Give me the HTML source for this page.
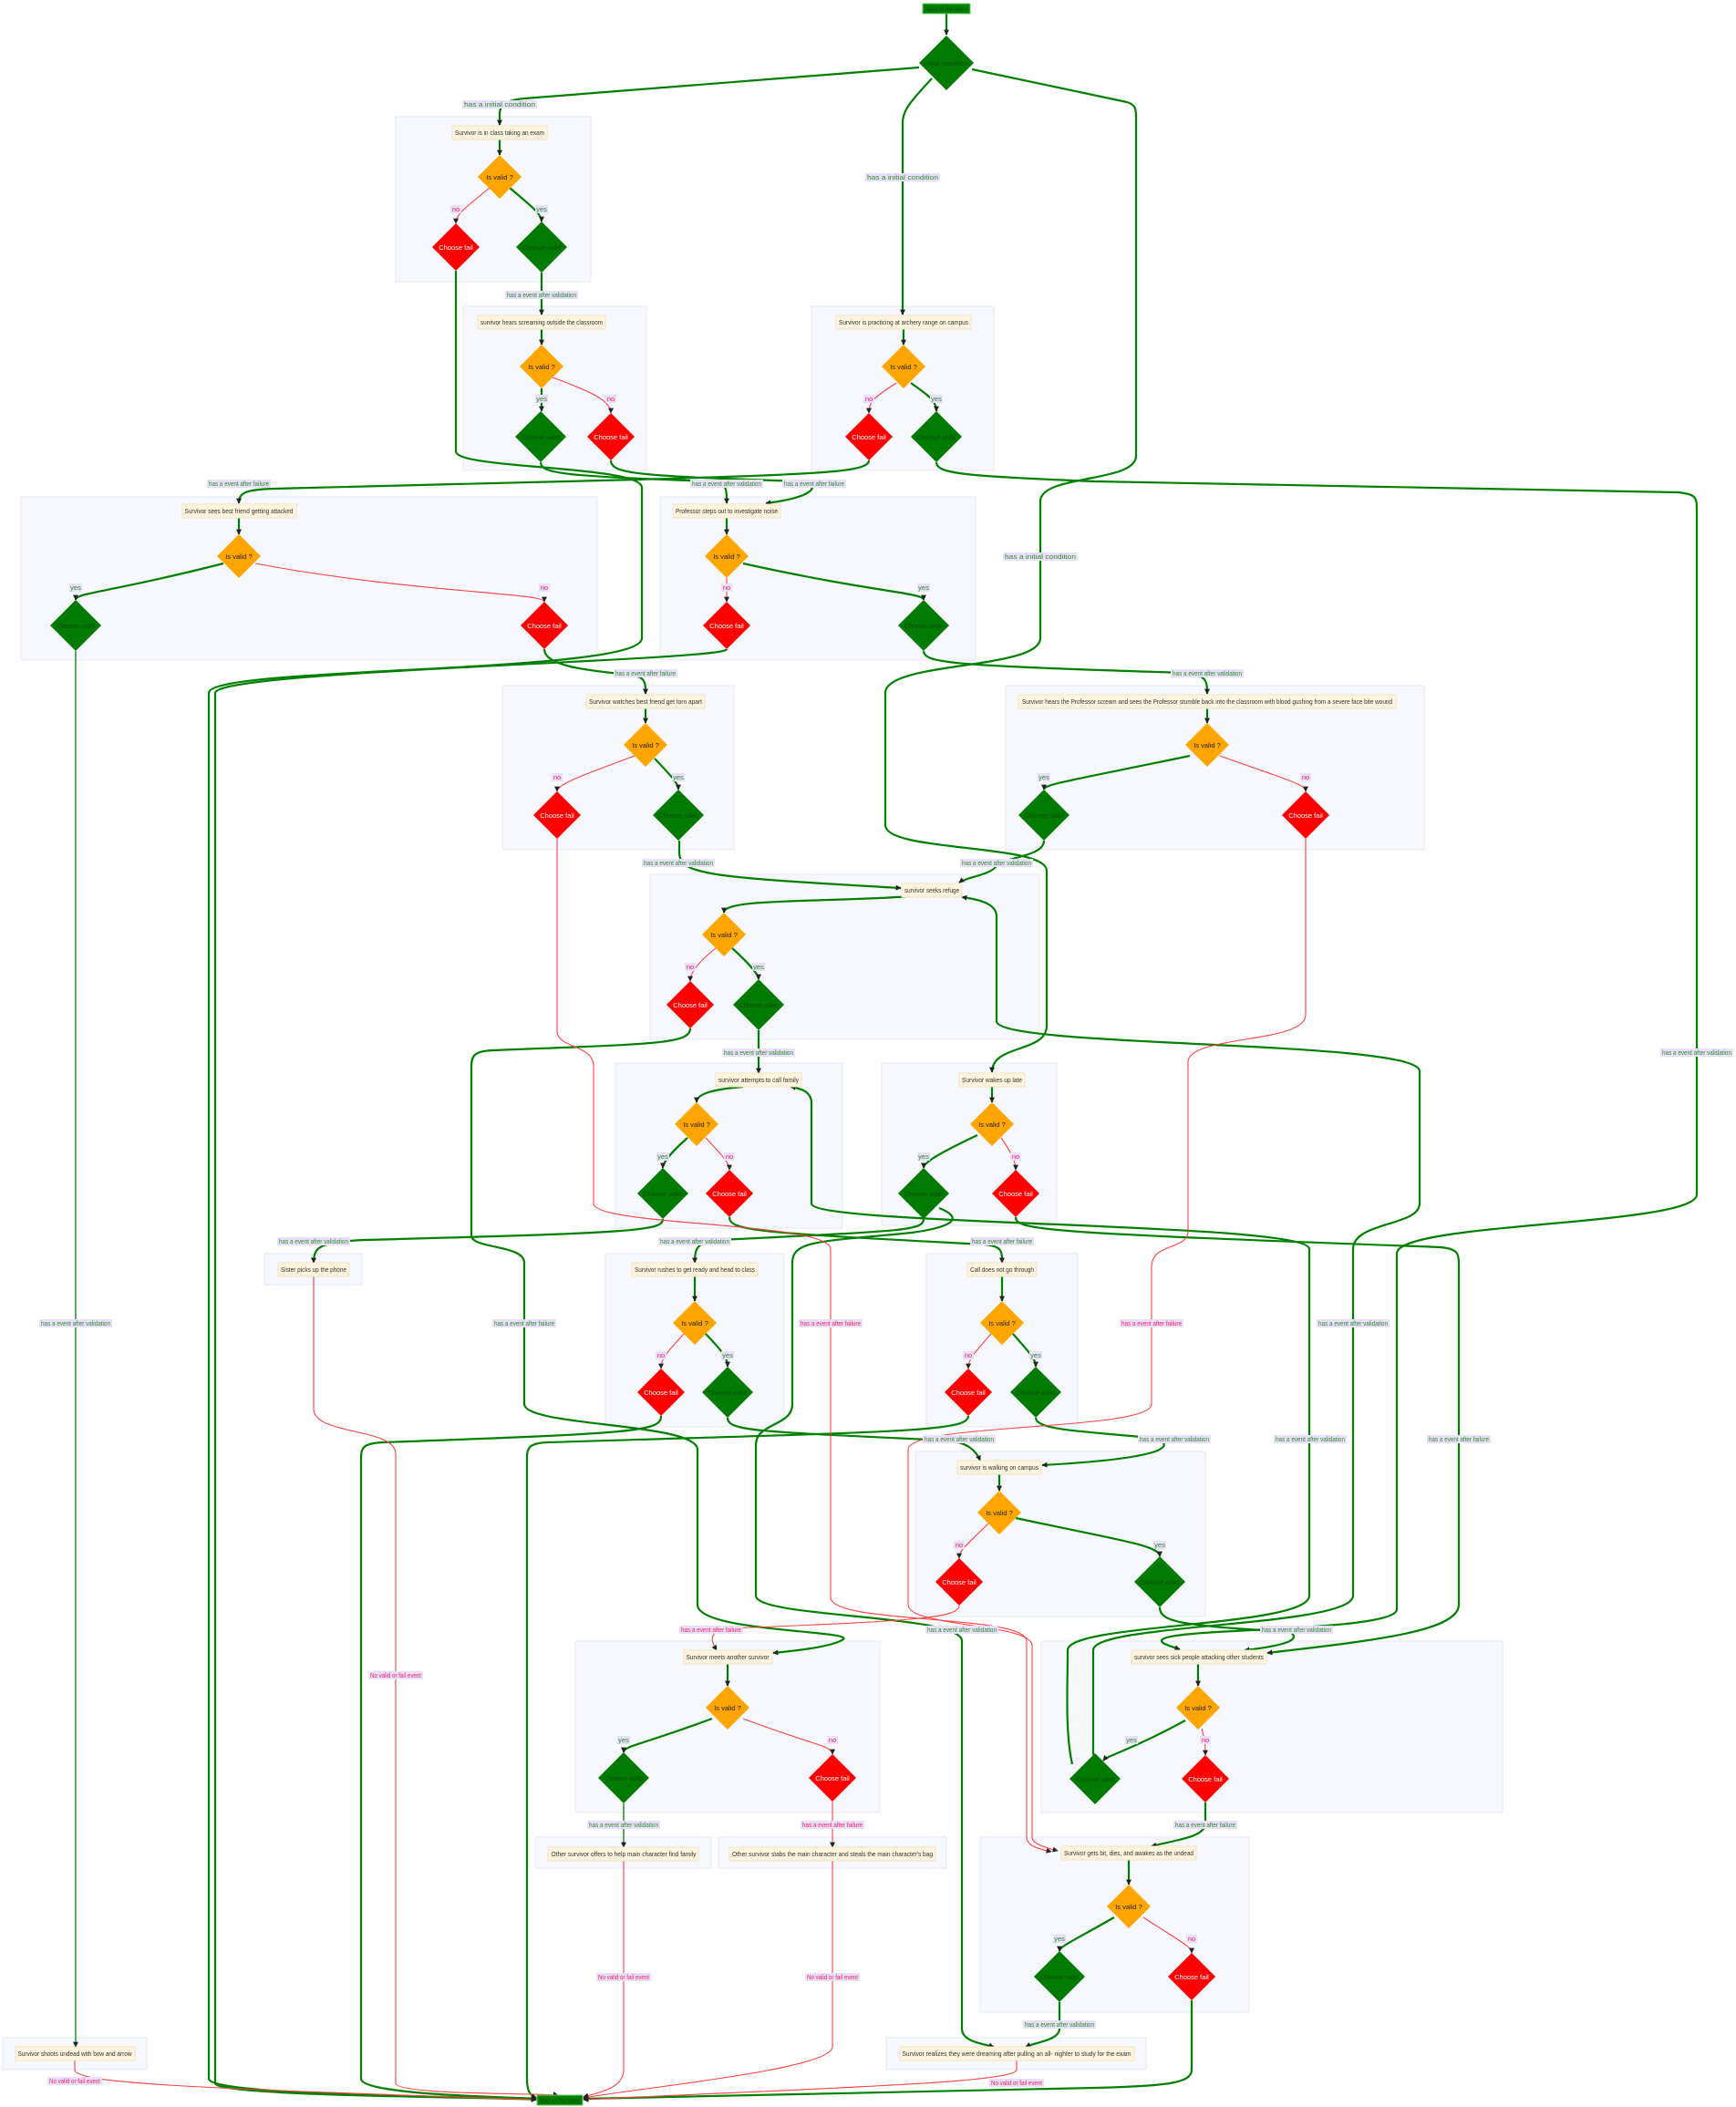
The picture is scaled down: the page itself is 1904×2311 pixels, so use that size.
<!DOCTYPE html>
<html><head><meta charset="utf-8"><style>
html,body{margin:0;padding:0;background:#fff;}
svg{display:block;font-family:"Liberation Sans",sans-serif;}
.cl{fill:#f7f8fd;stroke:#e4e8f4;stroke-width:1}
.bx{fill:#fff4de;stroke:#f3e4c4;stroke-width:1}
.bt{font-size:7.5px;fill:#333;text-anchor:middle}
.g{fill:none;stroke:#008000;stroke-width:2.2}
.gt{fill:none;stroke:#008000;stroke-width:1.3}
.r{fill:none;stroke:#ff4040;stroke-width:1.1}
.lb{fill:#eadff8}
.lg{font-size:7.5px;fill:#2e8b2e;text-anchor:middle}
.lr{font-size:7.5px;fill:#ff2060;text-anchor:middle}
.dv{fill:#ffa500}.dg{fill:#007a00}.dr{fill:#ff0000}
.tv{font-size:7.5px;fill:#222;text-anchor:middle}
.tg{font-size:7.5px;fill:#0b4d0b;text-anchor:middle}
.tr{font-size:7.5px;fill:#fff;text-anchor:middle}
</style></head><body>
<svg width="1904" height="2311" viewBox="0 0 1904 2311" xmlns="http://www.w3.org/2000/svg">
<defs><marker id="a" viewBox="0 0 10 10" refX="9" refY="5" markerUnits="userSpaceOnUse" markerWidth="6" markerHeight="6" orient="auto"><path d="M0,0L10,5L0,10z" fill="#222"/></marker></defs>

<!-- clusters -->
<rect class="cl" x="434" y="128" width="214" height="181"/>
<rect class="cl" x="508" y="336" width="201" height="180"/>
<rect class="cl" x="890" y="336" width="200" height="180"/>
<rect class="cl" x="23" y="545" width="632" height="179"/>
<rect class="cl" x="724" y="545" width="346" height="179"/>
<rect class="cl" x="551" y="752" width="254" height="180"/>
<rect class="cl" x="1103" y="752" width="459" height="180"/>
<rect class="cl" x="713" y="959" width="427" height="181"/>
<rect class="cl" x="675" y="1166" width="249" height="181"/>
<rect class="cl" x="967" y="1166" width="192" height="178"/>
<rect class="cl" x="290" y="1375" width="107" height="34"/>
<rect class="cl" x="664" y="1375" width="196" height="190"/>
<rect class="cl" x="1016" y="1375" width="166" height="190"/>
<rect class="cl" x="1004" y="1592" width="318" height="181"/>
<rect class="cl" x="631" y="1800" width="334" height="188"/>
<rect class="cl" x="1142" y="1800" width="506" height="188"/>
<rect class="cl" x="587" y="2015" width="193" height="34"/>
<rect class="cl" x="788" y="2015" width="250" height="34"/>
<rect class="cl" x="1075" y="2015" width="295" height="192"/>
<rect class="cl" x="3" y="2235" width="158" height="35"/>
<rect class="cl" x="972" y="2235" width="285" height="35"/>

<!-- long edges -->
<g class="g" marker-end="url(#a)">
<path d="M1038,15 L1038,38"/>
<path d="M1008,74 L575,108 C555,110 548,115 548,125 L548,137"/>
<path d="M1022,86 C1000,110 990,120 990,135 L990,345"/>
<path d="M1066,76 L1236,112 C1246,115 1246,120 1246,130 L1246,500 C1246,530 1141,520 1141,550 L1141,700 C1141,735 971,725 971,760 L971,905 C971,935 1148,925 1148,955 L1148,1125 C1148,1155 1088,1145 1088,1176"/>
<path d="M594,299 L594,345"/>
<path d="M500,297 L500,495 C500,515 704,510 704,535 L704,700 C704,740 229,730 229,760 L229,2280 C229,2300 560,2300 588,2302"/>
<path d="M797,712 C797,725 236,735 236,760 L236,2285 C236,2300 560,2300 588,2303"/>
<path d="M593,507 C593,520 620,522 780,528 C797,530 797,535 797,552"/>
<path d="M670,505 C670,520 700,522 880,528 C900,532 895,545 840,552"/>
<path d="M953,505 C953,518 900,520 700,526 L300,536 C270,537 262,540 262,552"/>
<path d="M1027,507 C1027,520 1060,522 1200,528 L1840,540 C1860,542 1861,545 1861,560 L1861,1310 C1861,1345 1532,1340 1532,1375 L1532,1765 C1532,1790 1290,1785 1275,1798 C1270,1802 1285,1806 1294,1809"/>
<path d="M597,712 C597,730 640,735 690,740 C708,742 708,748 708,761"/>
<path d="M1013,714 C1013,728 1050,730 1300,738 C1324,740 1324,748 1324,761"/>
<path d="M745,922 L745,935 C745,960 780,962 988,974"/>
<path d="M1145,922 C1145,940 1100,940 1093,950 C1085,960 1060,962 1052,968"/>
<path d="M832,1130 L832,1177"/>
<path d="M757,1128 C757,1145 720,1145 540,1152 C520,1153 517,1158 517,1170 L517,1355 C517,1370 575,1365 575,1385 L575,1540 C575,1565 765,1560 765,1590 L765,1760 C765,1790 935,1788 925,1798 C915,1805 880,1810 848,1813"/>
<path d="M727,1337 C727,1350 700,1352 400,1360 C350,1362 344,1368 344,1385"/>
<path d="M800,1335 C800,1350 830,1352 1080,1365 C1099,1367 1099,1372 1099,1385"/>
<path d="M1013,1337 C1013,1350 990,1350 790,1360 C765,1362 762,1368 762,1385"/>
<path d="M1030,1325 C1055,1335 1050,1345 1000,1352 C900,1362 869,1360 869,1385 L869,1540 C869,1565 829,1560 829,1585 L829,1750 C829,1775 1055,1770 1055,1800 L1055,2225 C1055,2240 1080,2242 1090,2245"/>
<path d="M1114,1335 C1114,1350 1150,1352 1580,1368 C1600,1370 1600,1375 1600,1390 L1600,1760 C1600,1790 1500,1800 1390,1813"/>
<path d="M725,1553 C725,1570 700,1572 420,1582 C398,1583 396,1588 396,1600 L396,2280 C396,2298 560,2300 588,2302"/>
<path d="M798,1555 C798,1570 830,1570 1040,1580 C1060,1582 1070,1590 1075,1602"/>
<path d="M1062,1553 C1062,1570 1000,1570 600,1582 C580,1583 578,1588 578,1600 L578,2280 C578,2295 582,2298 588,2301"/>
<path d="M1136,1555 C1136,1570 1200,1570 1270,1578 C1290,1588 1270,1600 1143,1607"/>
<path d="M1272,1763 C1272,1780 1300,1783 1415,1790 C1430,1800 1400,1806 1365,1810"/>
<path d="M1176,1935 C1168,1900 1171,1850 1171,1810 C1171,1780 1436,1785 1436,1750 L1436,1370 C1436,1340 890,1345 890,1320 L890,1210 C890,1198 880,1194 867,1192"/>
<path d="M1199,1925 L1199,1810 C1199,1780 1484,1785 1484,1750 L1484,1370 C1484,1340 1557,1345 1557,1320 L1557,1175 C1557,1140 1093,1150 1093,1120 L1093,1005 C1093,990 1070,986 1055,984"/>
<path d="M1162,2196 L1162,2225 C1162,2238 1135,2240 1125,2245"/>
<path d="M1322,1977 L1322,2000 C1322,2015 1290,2018 1263,2025"/>
<path d="M1307,2194 L1307,2270 C1307,2285 1280,2288 1200,2290 L640,2302"/>
</g>
<g class="gt" marker-end="url(#a)">
<path d="M83,714 L83,2245"/>
<path d="M684,1978 L684,2026"/>
</g>
<g class="r" marker-end="url(#a)">
<path d="M611,920 L611,1131 C611,1150 651,1145 651,1170 L651,1320 C651,1345 911,1340 911,1370 L911,1752 C911,1782 1126,1770 1126,1800 L1126,2015 C1126,2025 1140,2028 1153,2031"/>
<path d="M1432,920 L1432,1113 C1432,1145 1303,1135 1303,1165 L1303,1350 C1303,1372 1263,1362 1263,1390 L1263,1540 C1263,1570 996,1560 996,1590 L996,1760 C996,1785 1132,1780 1132,1805 L1132,2015 C1132,2022 1145,2026 1160,2030"/>
<path d="M344,1400 L344,1545 C344,1575 434,1565 434,1595 L434,2285 C434,2298 600,2296 612,2298"/>
<path d="M1052,1761 C1052,1775 1000,1778 800,1786 C775,1790 780,1800 786,1810"/>
<path d="M913,1976 L913,2026"/>
<path d="M684,2041 L684,2270 C684,2290 660,2294 640,2300"/>
<path d="M913,2041 L913,2245 C913,2270 700,2290 640,2301"/>
<path d="M1115,2260 L1115,2270 C1115,2285 900,2290 640,2303"/>
<path d="M82,2260 L82,2270 C82,2285 200,2290 588,2303"/>
</g>

<!-- in-cluster edges -->
<g class="g" marker-end="url(#a)">
<path d="M548,153 L548,170"/><path d="M559,206 C585,228 594,235 594,243"/>
<path d="M594,361 L594,378"/><path d="M594,426 L594,451"/>
<path d="M991,361 L991,378"/><path d="M999,420 C1020,435 1027,440 1027,451"/>
<path d="M262,568 L262,586"/><path d="M245,618 C120,650 83,650 83,658"/>
<path d="M797,568 L797,586"/><path d="M815,618 C960,650 1013,650 1013,658"/>
<path d="M708,777 L708,793"/><path d="M718,832 C740,855 744,860 744,866"/>
<path d="M1324,777 L1324,793"/><path d="M1305,829 C1180,855 1145,860 1145,866"/>
<path d="M1000,983 C900,990 794,985 794,1001"/><path d="M803,1040 C825,1060 832,1070 832,1074"/>
<path d="M815,1192 C780,1195 764,1200 764,1209"/><path d="M754,1248 C735,1265 727,1275 727,1281"/>
<path d="M1088,1192 L1088,1209"/><path d="M1072,1245 C1030,1265 1013,1275 1013,1281"/>
<path d="M762,1400 L762,1427"/><path d="M774,1463 C795,1485 798,1490 798,1499"/>
<path d="M1099,1400 L1099,1427"/><path d="M1111,1463 C1130,1485 1136,1490 1136,1499"/>
<path d="M1096,1617 L1096,1635"/><path d="M1114,1665 C1230,1690 1272,1695 1272,1707"/>
<path d="M798,1825 L798,1849"/><path d="M781,1885 C700,1915 684,1915 684,1922"/>
<path d="M1314,1825 L1314,1849"/><path d="M1300,1887 C1240,1920 1215,1925 1210,1931"/>
<path d="M1238,2040 L1238,2067"/><path d="M1222,2103 C1175,2130 1162,2135 1162,2140"/>
</g>
<g class="r" marker-end="url(#a)">
<path d="M537,206 C510,228 500,235 500,245"/>
<path d="M606,414 C650,430 670,440 670,453"/>
<path d="M983,420 C960,435 953,440 953,453"/>
<path d="M280,618 C450,650 597,650 597,660"/>
<path d="M797,634 L797,660"/>
<path d="M696,829 C640,850 611,860 611,868"/>
<path d="M1338,829 C1410,855 1432,860 1432,868"/>
<path d="M785,1040 C760,1060 757,1070 757,1076"/>
<path d="M774,1248 C790,1265 800,1275 800,1283"/>
<path d="M1098,1248 C1110,1265 1114,1275 1114,1283"/>
<path d="M750,1463 C730,1485 725,1490 725,1501"/>
<path d="M1087,1463 C1068,1485 1062,1490 1062,1501"/>
<path d="M1084,1671 C1060,1695 1052,1700 1052,1709"/>
<path d="M815,1885 C895,1915 913,1915 913,1924"/>
<path d="M1318,1896 C1322,1910 1322,1915 1322,1925"/>
<path d="M1254,2103 C1295,2130 1307,2135 1307,2142"/>
</g>

<!-- start / end -->
<rect x="1012" y="4" width="52" height="11" fill="#008000" stroke="#6c6"/>
<text x="1038" y="12.5" class="tg" textLength="46" lengthAdjust="spacingAndGlyphs">Start of the story</text>
<rect x="589" y="2298" width="50" height="11" fill="#008000" stroke="#6c6"/>
<text x="614" y="2306.5" class="tg" textLength="44" lengthAdjust="spacingAndGlyphs">End of the story</text>
<polygon class="dg" points="1038,39 1068,69 1038,99 1008,69"/>
<text x="1038" y="72" class="tg">Initial condition</text>

<!-- boxes -->
<g>
<rect class="bx" x="496" y="138" width="104" height="15"/><text class="bt" x="548" y="148" textLength="98" lengthAdjust="spacingAndGlyphs">Survivor is in class taking an exam</text>
<rect class="bx" x="524" y="346" width="140" height="15"/><text class="bt" x="594" y="356" textLength="134" lengthAdjust="spacingAndGlyphs">survivor hears screaming outside the classroom</text>
<rect class="bx" x="917" y="346" width="148" height="15"/><text class="bt" x="991" y="356" textLength="142" lengthAdjust="spacingAndGlyphs">Survivor is practicing at archery range on campus</text>
<rect class="bx" x="200" y="553" width="125" height="15"/><text class="bt" x="262" y="563" textLength="119" lengthAdjust="spacingAndGlyphs">Survivor sees best friend getting attacked</text>
<rect class="bx" x="738" y="553" width="118" height="15"/><text class="bt" x="797" y="563" textLength="112" lengthAdjust="spacingAndGlyphs">Professor steps out to investigate noise</text>
<rect class="bx" x="643" y="762" width="130" height="15"/><text class="bt" x="708" y="772" textLength="124" lengthAdjust="spacingAndGlyphs">Survivor watches best friend get torn apart</text>
<rect class="bx" x="1117" y="762" width="414" height="15"/><text class="bt" x="1324" y="772" textLength="406" lengthAdjust="spacingAndGlyphs">Survivor hears the Professor scream and sees the Professor stumble back into the classroom with blood gushing from a severe face bite wound</text>
<rect class="bx" x="989" y="969" width="66" height="15"/><text class="bt" x="1022" y="979" textLength="60" lengthAdjust="spacingAndGlyphs">survivor seeks refuge</text>
<rect class="bx" x="785" y="1177" width="94" height="15"/><text class="bt" x="832" y="1187" textLength="88" lengthAdjust="spacingAndGlyphs">survivor attempts to call family</text>
<rect class="bx" x="1052" y="1177" width="72" height="15"/><text class="bt" x="1088" y="1187" textLength="66" lengthAdjust="spacingAndGlyphs">Survivor wakes up late</text>
<rect class="bx" x="305" y="1385" width="78" height="15"/><text class="bt" x="344" y="1395" textLength="72" lengthAdjust="spacingAndGlyphs">Sister picks up the phone</text>
<rect class="bx" x="693" y="1385" width="138" height="15"/><text class="bt" x="762" y="1395" textLength="132" lengthAdjust="spacingAndGlyphs">Survivor rushes to get ready and head to class</text>
<rect class="bx" x="1061" y="1385" width="76" height="15"/><text class="bt" x="1099" y="1395" textLength="70" lengthAdjust="spacingAndGlyphs">Call does not go through</text>
<rect class="bx" x="1050" y="1602" width="92" height="15"/><text class="bt" x="1096" y="1612" textLength="86" lengthAdjust="spacingAndGlyphs">survivor is walking on campus</text>
<rect class="bx" x="750" y="1810" width="97" height="15"/><text class="bt" x="798" y="1820" textLength="91" lengthAdjust="spacingAndGlyphs">Survivor meets another survivor</text>
<rect class="bx" x="1241" y="1810" width="148" height="15"/><text class="bt" x="1315" y="1820" textLength="142" lengthAdjust="spacingAndGlyphs">survivor sees sick people attacking other students</text>
<rect class="bx" x="601" y="2026" width="165" height="15"/><text class="bt" x="684" y="2036" textLength="159" lengthAdjust="spacingAndGlyphs">Other survivor offers to help main character find family</text>
<rect class="bx" x="800" y="2026" width="226" height="15"/><text class="bt" x="913" y="2036" textLength="220" lengthAdjust="spacingAndGlyphs">Other survivor stabs the main character and steals the main character's bag</text>
<rect class="bx" x="1164" y="2025" width="148" height="15"/><text class="bt" x="1238" y="2035" textLength="142" lengthAdjust="spacingAndGlyphs">Survivor gets bit, dies, and awakes as the undead</text>
<rect class="bx" x="17" y="2245" width="131" height="15"/><text class="bt" x="82" y="2255" textLength="125" lengthAdjust="spacingAndGlyphs">Survivor shoots undead with bow and arrow</text>
<rect class="bx" x="987" y="2245" width="257" height="15"/><text class="bt" x="1115" y="2255" textLength="251" lengthAdjust="spacingAndGlyphs">Survivor realizes they were dreaming after pulling an all- nighter to study for the exam</text>
</g>

<!-- valid diamonds -->
<g>
<polygon class="dv" points="548,170 572,194 548,218 524,194"/><text class="tv" x="548" y="197">Is valid ?</text>
<polygon class="dv" points="594,378 618,402 594,426 570,402"/><text class="tv" x="594" y="405">Is valid ?</text>
<polygon class="dv" points="991,378 1015,402 991,426 967,402"/><text class="tv" x="991" y="405">Is valid ?</text>
<polygon class="dv" points="262,586 286,610 262,634 238,610"/><text class="tv" x="262" y="613">Is valid ?</text>
<polygon class="dv" points="797,586 821,610 797,634 773,610"/><text class="tv" x="797" y="613">Is valid ?</text>
<polygon class="dv" points="708,793 732,817 708,841 684,817"/><text class="tv" x="708" y="820">Is valid ?</text>
<polygon class="dv" points="1324,793 1348,817 1324,841 1300,817"/><text class="tv" x="1324" y="820">Is valid ?</text>
<polygon class="dv" points="794,1001 818,1025 794,1049 770,1025"/><text class="tv" x="794" y="1028">Is valid ?</text>
<polygon class="dv" points="764,1209 788,1233 764,1257 740,1233"/><text class="tv" x="764" y="1236">Is valid ?</text>
<polygon class="dv" points="1088,1209 1112,1233 1088,1257 1064,1233"/><text class="tv" x="1088" y="1236">Is valid ?</text>
<polygon class="dv" points="762,1427 786,1451 762,1475 738,1451"/><text class="tv" x="762" y="1454">Is valid ?</text>
<polygon class="dv" points="1099,1427 1123,1451 1099,1475 1075,1451"/><text class="tv" x="1099" y="1454">Is valid ?</text>
<polygon class="dv" points="1096,1635 1120,1659 1096,1683 1072,1659"/><text class="tv" x="1096" y="1662">Is valid ?</text>
<polygon class="dv" points="798,1849 822,1873 798,1897 774,1873"/><text class="tv" x="798" y="1876">Is valid ?</text>
<polygon class="dv" points="1314,1849 1338,1873 1314,1897 1290,1873"/><text class="tv" x="1314" y="1876">Is valid ?</text>
<polygon class="dv" points="1238,2067 1262,2091 1238,2115 1214,2091"/><text class="tv" x="1238" y="2094">Is valid ?</text>
</g>
<!-- choose valid -->
<g>
<polygon class="dg" points="594,243 622,271 594,299 566,271"/><text class="tg" x="594" y="274">Choose valid</text>
<polygon class="dg" points="593,451 621,479 593,507 565,479"/><text class="tg" x="593" y="482">Choose valid</text>
<polygon class="dg" points="1027,451 1055,479 1027,507 999,479"/><text class="tg" x="1027" y="482">Choose valid</text>
<polygon class="dg" points="83,658 111,686 83,714 55,686"/><text class="tg" x="83" y="689">Choose valid</text>
<polygon class="dg" points="1013,658 1041,686 1013,714 985,686"/><text class="tg" x="1013" y="689">Choose valid</text>
<polygon class="dg" points="744,866 772,894 744,922 716,894"/><text class="tg" x="744" y="897">Choose valid</text>
<polygon class="dg" points="1145,866 1173,894 1145,922 1117,894"/><text class="tg" x="1145" y="897">Choose valid</text>
<polygon class="dg" points="832,1074 860,1102 832,1130 804,1102"/><text class="tg" x="832" y="1105">Choose valid</text>
<polygon class="dg" points="727,1281 755,1309 727,1337 699,1309"/><text class="tg" x="727" y="1312">Choose valid</text>
<polygon class="dg" points="1013,1281 1041,1309 1013,1337 985,1309"/><text class="tg" x="1013" y="1312">Choose valid</text>
<polygon class="dg" points="798,1499 826,1527 798,1555 770,1527"/><text class="tg" x="798" y="1530">Choose valid</text>
<polygon class="dg" points="1136,1499 1164,1527 1136,1555 1108,1527"/><text class="tg" x="1136" y="1530">Choose valid</text>
<polygon class="dg" points="1272,1707 1300,1735 1272,1763 1244,1735"/><text class="tg" x="1272" y="1738">Choose valid</text>
<polygon class="dg" points="684,1922 712,1950 684,1978 656,1950"/><text class="tg" x="684" y="1953">Choose valid</text>
<polygon class="dg" points="1201,1923 1229,1951 1201,1979 1173,1951"/><text class="tg" x="1201" y="1954">Choose valid</text>
<polygon class="dg" points="1162,2140 1190,2168 1162,2196 1134,2168"/><text class="tg" x="1162" y="2171">Choose valid</text>
</g>
<!-- choose fail -->
<g>
<polygon class="dr" points="500,245 526,271 500,297 474,271"/><text class="tr" x="500" y="274">Choose fail</text>
<polygon class="dr" points="670,453 696,479 670,505 644,479"/><text class="tr" x="670" y="482">Choose fail</text>
<polygon class="dr" points="953,453 979,479 953,505 927,479"/><text class="tr" x="953" y="482">Choose fail</text>
<polygon class="dr" points="597,660 623,686 597,712 571,686"/><text class="tr" x="597" y="689">Choose fail</text>
<polygon class="dr" points="797,660 823,686 797,712 771,686"/><text class="tr" x="797" y="689">Choose fail</text>
<polygon class="dr" points="611,868 637,894 611,920 585,894"/><text class="tr" x="611" y="897">Choose fail</text>
<polygon class="dr" points="1432,868 1458,894 1432,920 1406,894"/><text class="tr" x="1432" y="897">Choose fail</text>
<polygon class="dr" points="757,1076 783,1102 757,1128 731,1102"/><text class="tr" x="757" y="1105">Choose fail</text>
<polygon class="dr" points="800,1283 826,1309 800,1335 774,1309"/><text class="tr" x="800" y="1312">Choose fail</text>
<polygon class="dr" points="1114,1283 1140,1309 1114,1335 1088,1309"/><text class="tr" x="1114" y="1312">Choose fail</text>
<polygon class="dr" points="725,1501 751,1527 725,1553 699,1527"/><text class="tr" x="725" y="1530">Choose fail</text>
<polygon class="dr" points="1062,1501 1088,1527 1062,1553 1036,1527"/><text class="tr" x="1062" y="1530">Choose fail</text>
<polygon class="dr" points="1052,1709 1078,1735 1052,1761 1026,1735"/><text class="tr" x="1052" y="1738">Choose fail</text>
<polygon class="dr" points="913,1924 939,1950 913,1976 887,1950"/><text class="tr" x="913" y="1953">Choose fail</text>
<polygon class="dr" points="1322,1925 1348,1951 1322,1977 1296,1951"/><text class="tr" x="1322" y="1954">Choose fail</text>
<polygon class="dr" points="1307,2142 1333,2168 1307,2194 1281,2168"/><text class="tr" x="1307" y="2171">Choose fail</text>
</g>

<!-- yes/no labels -->
<g>
<rect class="lb" x="494" y="225" width="12" height="9"/><text class="lr" x="500" y="232">no</text>
<rect class="lb" x="587" y="225" width="14" height="9"/><text class="lg" x="594" y="232">yes</text>
<rect class="lb" x="587" y="433" width="14" height="9"/><text class="lg" x="594" y="440">yes</text>
<rect class="lb" x="664" y="433" width="12" height="9"/><text class="lr" x="670" y="440">no</text>
<rect class="lb" x="947" y="433" width="12" height="9"/><text class="lr" x="953" y="440">no</text>
<rect class="lb" x="1020" y="433" width="14" height="9"/><text class="lg" x="1027" y="440">yes</text>
<rect class="lb" x="76" y="640" width="14" height="9"/><text class="lg" x="83" y="647">yes</text>
<rect class="lb" x="591" y="640" width="12" height="9"/><text class="lr" x="597" y="647">no</text>
<rect class="lb" x="791" y="640" width="12" height="9"/><text class="lr" x="797" y="647">no</text>
<rect class="lb" x="1006" y="640" width="14" height="9"/><text class="lg" x="1013" y="647">yes</text>
<rect class="lb" x="605" y="848" width="12" height="9"/><text class="lr" x="611" y="855">no</text>
<rect class="lb" x="737" y="848" width="14" height="9"/><text class="lg" x="744" y="855">yes</text>
<rect class="lb" x="1138" y="848" width="14" height="9"/><text class="lg" x="1145" y="855">yes</text>
<rect class="lb" x="1426" y="848" width="12" height="9"/><text class="lr" x="1432" y="855">no</text>
<rect class="lb" x="751" y="1056" width="12" height="9"/><text class="lr" x="757" y="1063">no</text>
<rect class="lb" x="825" y="1056" width="14" height="9"/><text class="lg" x="832" y="1063">yes</text>
<rect class="lb" x="720" y="1264" width="14" height="9"/><text class="lg" x="727" y="1271">yes</text>
<rect class="lb" x="794" y="1264" width="12" height="9"/><text class="lr" x="800" y="1271">no</text>
<rect class="lb" x="1006" y="1264" width="14" height="9"/><text class="lg" x="1013" y="1271">yes</text>
<rect class="lb" x="1108" y="1264" width="12" height="9"/><text class="lr" x="1114" y="1271">no</text>
<rect class="lb" x="719" y="1482" width="12" height="9"/><text class="lr" x="725" y="1489">no</text>
<rect class="lb" x="791" y="1482" width="14" height="9"/><text class="lg" x="798" y="1489">yes</text>
<rect class="lb" x="1056" y="1482" width="12" height="9"/><text class="lr" x="1062" y="1489">no</text>
<rect class="lb" x="1129" y="1482" width="14" height="9"/><text class="lg" x="1136" y="1489">yes</text>
<rect class="lb" x="1046" y="1690" width="12" height="9"/><text class="lr" x="1052" y="1697">no</text>
<rect class="lb" x="1265" y="1690" width="14" height="9"/><text class="lg" x="1272" y="1697">yes</text>
<rect class="lb" x="677" y="1904" width="14" height="9"/><text class="lg" x="684" y="1911">yes</text>
<rect class="lb" x="907" y="1904" width="12" height="9"/><text class="lr" x="913" y="1911">no</text>
<rect class="lb" x="1234" y="1904" width="14" height="9"/><text class="lg" x="1241" y="1911">yes</text>
<rect class="lb" x="1316" y="1904" width="12" height="9"/><text class="lr" x="1322" y="1911">no</text>
<rect class="lb" x="1155" y="2122" width="14" height="9"/><text class="lg" x="1162" y="2129">yes</text>
<rect class="lb" x="1301" y="2122" width="12" height="9"/><text class="lr" x="1307" y="2129">no</text>
</g>

<!-- edge labels -->
<g>
<rect class="lb" x="507" y="110" width="82" height="9"/><text class="lg" x="548" y="117" textLength="78" lengthAdjust="spacingAndGlyphs">has a initial condition</text>
<rect class="lb" x="949" y="190" width="82" height="9"/><text class="lg" x="990" y="197" textLength="78" lengthAdjust="spacingAndGlyphs">has a initial condition</text>
<rect class="lb" x="1100" y="606" width="82" height="9"/><text class="lg" x="1141" y="613" textLength="78" lengthAdjust="spacingAndGlyphs">has a initial condition</text>
<rect class="lb" x="554" y="319" width="80" height="9"/><text class="lg" x="594" y="326" textLength="76" lengthAdjust="spacingAndGlyphs">has a event after validation</text>
<rect class="lb" x="227" y="526" width="70" height="9"/><text class="lg" x="262" y="533" textLength="66" lengthAdjust="spacingAndGlyphs">has a event after failure</text>
<rect class="lb" x="757" y="526" width="80" height="9"/><text class="lg" x="797" y="533" textLength="76" lengthAdjust="spacingAndGlyphs">has a event after validation</text>
<rect class="lb" x="858" y="526" width="70" height="9"/><text class="lg" x="893" y="533" textLength="66" lengthAdjust="spacingAndGlyphs">has a event after failure</text>
<rect class="lb" x="673" y="734" width="70" height="9"/><text class="lg" x="708" y="741" textLength="66" lengthAdjust="spacingAndGlyphs">has a event after failure</text>
<rect class="lb" x="1284" y="734" width="80" height="9"/><text class="lg" x="1324" y="741" textLength="76" lengthAdjust="spacingAndGlyphs">has a event after validation</text>
<rect class="lb" x="704" y="942" width="80" height="9"/><text class="lg" x="744" y="949" textLength="76" lengthAdjust="spacingAndGlyphs">has a event after validation</text>
<rect class="lb" x="1053" y="942" width="80" height="9"/><text class="lg" x="1093" y="949" textLength="76" lengthAdjust="spacingAndGlyphs">has a event after validation</text>
<rect class="lb" x="792" y="1150" width="80" height="9"/><text class="lg" x="832" y="1157" textLength="76" lengthAdjust="spacingAndGlyphs">has a event after validation</text>
<rect class="lb" x="1821" y="1150" width="80" height="9"/><text class="lg" x="1861" y="1157" textLength="76" lengthAdjust="spacingAndGlyphs">has a event after validation</text>
<rect class="lb" x="304" y="1357" width="80" height="9"/><text class="lg" x="344" y="1364" textLength="76" lengthAdjust="spacingAndGlyphs">has a event after validation</text>
<rect class="lb" x="722" y="1357" width="80" height="9"/><text class="lg" x="762" y="1364" textLength="76" lengthAdjust="spacingAndGlyphs">has a event after validation</text>
<rect class="lb" x="1064" y="1357" width="70" height="9"/><text class="lg" x="1099" y="1364" textLength="66" lengthAdjust="spacingAndGlyphs">has a event after failure</text>
<rect class="lb" x="43" y="1447" width="80" height="9"/><text class="lg" x="83" y="1454" textLength="76" lengthAdjust="spacingAndGlyphs">has a event after validation</text>
<rect class="lb" x="540" y="1447" width="70" height="9"/><text class="lg" x="575" y="1454" textLength="66" lengthAdjust="spacingAndGlyphs">has a event after failure</text>
<rect class="lb" x="876" y="1447" width="70" height="9"/><text class="lr" x="911" y="1454" textLength="66" lengthAdjust="spacingAndGlyphs">has a event after failure</text>
<rect class="lb" x="1228" y="1447" width="70" height="9"/><text class="lr" x="1263" y="1454" textLength="66" lengthAdjust="spacingAndGlyphs">has a event after failure</text>
<rect class="lb" x="1444" y="1447" width="80" height="9"/><text class="lg" x="1484" y="1454" textLength="76" lengthAdjust="spacingAndGlyphs">has a event after validation</text>
<rect class="lb" x="1012" y="1574" width="80" height="9"/><text class="lg" x="1052" y="1581" textLength="76" lengthAdjust="spacingAndGlyphs">has a event after validation</text>
<rect class="lb" x="1248" y="1574" width="80" height="9"/><text class="lg" x="1288" y="1581" textLength="76" lengthAdjust="spacingAndGlyphs">has a event after validation</text>
<rect class="lb" x="1397" y="1574" width="80" height="9"/><text class="lg" x="1437" y="1581" textLength="76" lengthAdjust="spacingAndGlyphs">has a event after validation</text>
<rect class="lb" x="1565" y="1574" width="70" height="9"/><text class="lg" x="1600" y="1581" textLength="66" lengthAdjust="spacingAndGlyphs">has a event after failure</text>
<rect class="lb" x="745" y="1783" width="70" height="9"/><text class="lr" x="780" y="1790" textLength="66" lengthAdjust="spacingAndGlyphs">has a event after failure</text>
<rect class="lb" x="1015" y="1783" width="80" height="9"/><text class="lg" x="1055" y="1790" textLength="76" lengthAdjust="spacingAndGlyphs">has a event after validation</text>
<rect class="lb" x="1382" y="1783" width="80" height="9"/><text class="lg" x="1422" y="1790" textLength="76" lengthAdjust="spacingAndGlyphs">has a event after validation</text>
<rect class="lb" x="404" y="1833" width="60" height="9"/><text class="lr" x="434" y="1840" textLength="56" lengthAdjust="spacingAndGlyphs">No valid or fail event</text>
<rect class="lb" x="644" y="1997" width="80" height="9"/><text class="lg" x="684" y="2004" textLength="76" lengthAdjust="spacingAndGlyphs">has a event after validation</text>
<rect class="lb" x="878" y="1997" width="70" height="9"/><text class="lr" x="913" y="2004" textLength="66" lengthAdjust="spacingAndGlyphs">has a event after failure</text>
<rect class="lb" x="1287" y="1997" width="70" height="9"/><text class="lg" x="1322" y="2004" textLength="66" lengthAdjust="spacingAndGlyphs">has a event after failure</text>
<rect class="lb" x="654" y="2164" width="60" height="9"/><text class="lr" x="684" y="2171" textLength="56" lengthAdjust="spacingAndGlyphs">No valid or fail event</text>
<rect class="lb" x="883" y="2164" width="60" height="9"/><text class="lr" x="913" y="2171" textLength="56" lengthAdjust="spacingAndGlyphs">No valid or fail event</text>
<rect class="lb" x="1122" y="2216" width="80" height="9"/><text class="lg" x="1162" y="2223" textLength="76" lengthAdjust="spacingAndGlyphs">has a event after validation</text>
<rect class="lb" x="52" y="2278" width="60" height="9"/><text class="lr" x="82" y="2285" textLength="56" lengthAdjust="spacingAndGlyphs">No valid or fail event</text>
<rect class="lb" x="1085" y="2280" width="60" height="9"/><text class="lr" x="1115" y="2287" textLength="56" lengthAdjust="spacingAndGlyphs">No valid or fail event</text>
</g>
</svg>
</body></html>
